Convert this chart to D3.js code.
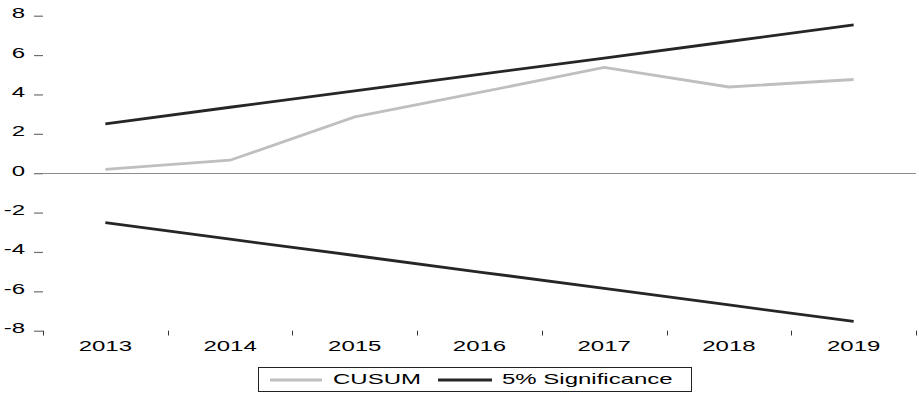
<!DOCTYPE html>
<html>
<head>
<meta charset="utf-8">
<script src="https://cdn.jsdelivr.net/npm/d3@7"></script>
<style>
  html, body { margin: 0; padding: 0; background: #fff; }
  svg { display: block; }
  text { font-family: "Liberation Sans", Arial, sans-serif; font-size: 15px; fill: #000; }
</style>
</head>
<body>
<svg id="chart" width="919" height="393"></svg>
<script>
// CUSUM test with 5% significance bounds
const years = ["2013", "2014", "2015", "2016", "2017", "2018", "2019"];
const cusum = [0.19, 0.66, 2.86, 4.1, 5.37, 4.38, 4.76];
const upper = [2.51, 3.35, 4.18, 5.02, 5.85, 6.69, 7.53];
const lower = [-2.51, -3.35, -4.18, -5.02, -5.85, -6.69, -7.53];
const yTicks = [-8, -6, -4, -2, 0, 2, 4, 6, 8];
const legendLabels = ["CUSUM", "5% Significance"];

const STRETCH = 1.6;          // horizontal text stretch
const cusumColor = "#bfbfbf";
const sigColor = "#262626";

const svg = d3.select("#chart");

const x = d3.scaleBand().domain(years).range([43, 916]).padding(0);
const y = d3.scaleLinear().domain([-8, 8]).range([330.7, 15.7]);
const cx = d => x(d) + x.bandwidth() / 2;

// zero reference line
svg.append("line")
  .attr("x1", 43).attr("x2", 916)
  .attr("y1", Math.round(y(0)) + 0.5).attr("y2", Math.round(y(0)) + 0.5)
  .attr("stroke", "#8c8c8c").attr("stroke-width", 1.2);

// y axis (ticks and labels only)
const yAxis = d3.axisLeft(y)
  .tickValues(yTicks)
  .tickSize(9)
  .tickPadding(9)
  .tickFormat(d => String(d));
const gy = svg.append("g").attr("transform", "translate(43,0)").call(yAxis);
gy.select(".domain").remove();
gy.attr("font-family", null).attr("font-size", null);
gy.selectAll(".tick line").attr("stroke", "#6e6e6e").attr("stroke-width", 1.2);
gy.selectAll(".tick text").each(function () {
  const t = d3.select(this);
  const tx = +t.attr("x");
  t.attr("x", 0).attr("dy", null)
   .attr("dominant-baseline", "middle")
   .attr("transform", `translate(${tx},-2) scale(${STRETCH},1)`);
});

// x axis: ticks at band boundaries, labels at band centres
const boundaries = years.map(d => x(d)).concat([x.range()[1]]);
const gx = svg.append("g");
gx.selectAll("line.xt").data(boundaries).join("line")
  .attr("class", "xt")
  .attr("x1", d => Math.round(d) + 0.5).attr("x2", d => Math.round(d) + 0.5)
  .attr("y1", 330.7).attr("y2", 335.5)
  .attr("stroke", "#333").attr("stroke-width", 1);
gx.selectAll("text").data(years).join("text")
  .attr("text-anchor", "middle")
  .attr("transform", d => `translate(${cx(d)},351) scale(${STRETCH},1)`)
  .text(d => d);

// series lines
const line = d3.line().x((d, i) => cx(years[i])).y(d => y(d));
svg.append("path").datum(cusum)
  .attr("d", line).attr("fill", "none")
  .attr("stroke", cusumColor).attr("stroke-width", 2.8);
[upper, lower].forEach(s => {
  svg.append("path").datum(s)
    .attr("d", line).attr("fill", "none")
    .attr("stroke", sigColor).attr("stroke-width", 2.8);
});

// legend
const lg = svg.append("g");
lg.append("rect")
  .attr("x", 258.5).attr("y", 367.5).attr("width", 433).attr("height", 24)
  .attr("fill", "#fff").attr("stroke", "#222").attr("stroke-width", 1);
const items = [
  { label: legendLabels[0], color: cusumColor, x0: 270, x1: 322, tx: 333 },
  { label: legendLabels[1], color: sigColor, x0: 438, x1: 492, tx: 502 }
];
items.forEach(it => {
  lg.append("line")
    .attr("x1", it.x0).attr("x2", it.x1).attr("y1", 380).attr("y2", 380)
    .attr("stroke", it.color).attr("stroke-width", 2.8);
  lg.append("text")
    .attr("transform", `translate(${it.tx},383.5) scale(${STRETCH},1)`)
    .text(it.label);
});
</script>
</body>
</html>
